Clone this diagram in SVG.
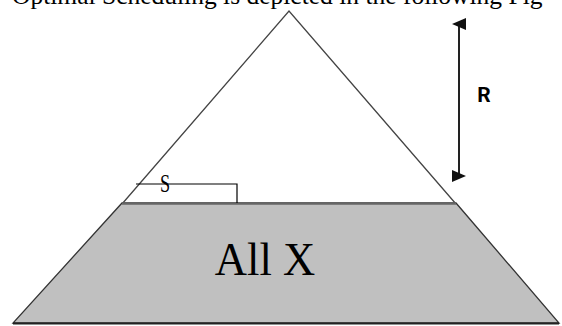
<svg xmlns="http://www.w3.org/2000/svg" width="562" height="326" viewBox="0 0 562 326">
<style>
.serif{font-family:"Liberation Serif","Times New Roman",serif;fill:#000}
.edge{fill:none;stroke:#444;stroke-width:1.3}
</style>
<defs>
<marker id="ah" markerWidth="12" markerHeight="14" refX="6" refY="7" orient="auto-start-reverse" markerUnits="userSpaceOnUse" viewBox="0 0 12 14">
<path d="M0,14 L6,0 L12,14 Z" fill="#111"/>
</marker>
</defs>
<rect width="562" height="326" fill="#fff"/>
<text class="serif" x="12" y="4" font-size="25.5">Optimal Scheduling is depicted in the following Fig</text>
<g id="triangle">
<path d="M122,204 L289,11 L456,204" class="edge"/>
</g>
<g id="allx">
<polygon points="122,203 456,203 559,323 13,323" fill="#c0c0c0" stroke="#333" stroke-width="1.3"/>
<line x1="122" y1="203.5" x2="456" y2="203.5" stroke="#666" stroke-width="2.5"/>
<line x1="13" y1="323.5" x2="559" y2="323.5" stroke="#222" stroke-width="2"/>
<text class="serif" x="265" y="275" font-size="47" text-anchor="middle" transform="translate(265,0) scale(0.95,1) translate(-265,0)">All X</text>
</g>
<g id="connectors">
<polyline points="136,184 237,184 237,203" fill="none" stroke="#000" stroke-width="1.2"/>
<line x1="459" y1="24" x2="459" y2="176" stroke="#222" stroke-width="2" marker-start="url(#ah)" marker-end="url(#ah)"/>
</g>
<g id="labels">
<text class="serif" x="165" y="192" font-size="26" text-anchor="middle" transform="translate(165,0) scale(0.7,1) translate(-165,0)">S</text>
<text x="484" y="102" font-family="Roboto,'Liberation Sans',sans-serif" font-weight="bold" font-size="21" text-anchor="middle">R</text>
</g>
</svg>
